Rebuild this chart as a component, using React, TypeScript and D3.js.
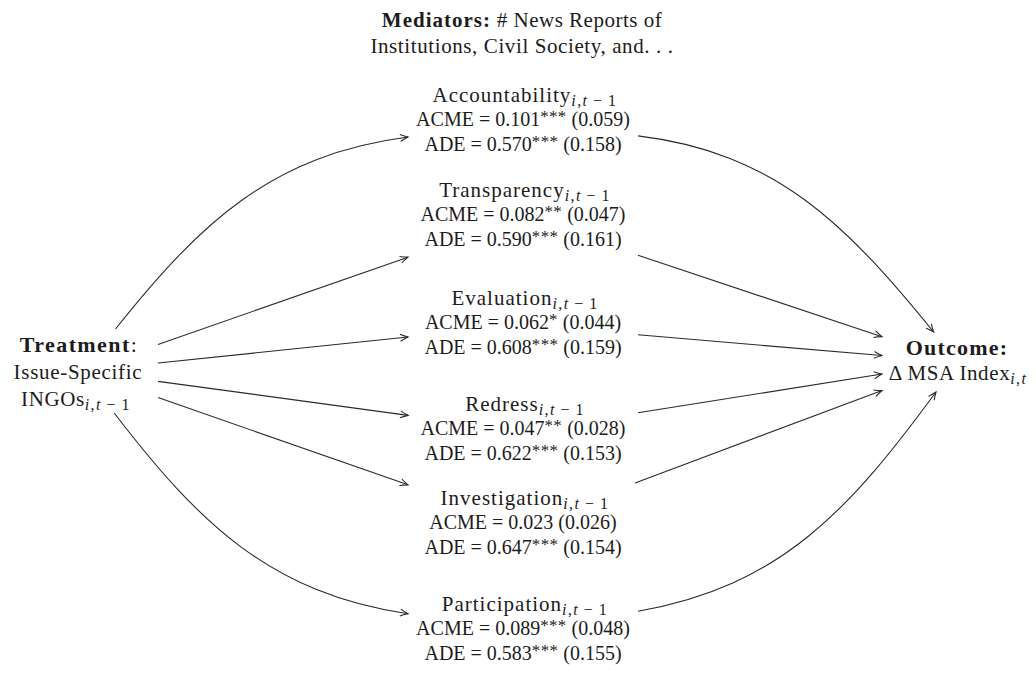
import React from "react";
import * as d3 from "d3";

const mediators = ["Accountability", "Transparency", "Evaluation", "Redress", "Investigation", "Participation"];
const acmeEst = [0.101, 0.082, 0.062, 0.047, 0.023, 0.089];
const acmeStars = ["***", "**", "*", "**", "", "***"];
const acmeSE = [0.059, 0.047, 0.044, 0.028, 0.026, 0.048];
const adeEst = [0.57, 0.59, 0.608, 0.622, 0.647, 0.583];
const adeStars = ["***", "***", "***", "***", "***", "***"];
const adeSE = [0.158, 0.161, 0.159, 0.153, 0.154, 0.155];

// layout (not data)
const bends = [22, 0, 0, 0, 0, -22];
const medRowY = [119, 214, 322, 428, 522, 628];

const W = 1036;
const H = 673;
const FONT = "'Liberation Serif', 'Times New Roman', serif";
const TEXT = "#1c1c1c";
const LINE = "#2a2a2a";

type Node = { cx: number; cy: number; hw: number; hh: number };

const yScale = d3.scaleOrdinal<string, number>().domain(mediators).range(medRowY);
const MED_X = 523;
const GAP = 24.5;

const treat: Node = { cx: 82, cy: 371, hw: 76, hh: 42 };
const outc: Node = { cx: 958, cy: 362, hw: 76, hh: 30 };
const medNode = (m: string): Node => ({ cx: MED_X, cy: yScale(m) + 3, hw: 115, hh: 42 });

function border(n: Node, ang: number): [number, number] {
  const c = Math.cos(ang), s = Math.sin(ang);
  const t = Math.min(Math.abs(c) < 1e-9 ? Infinity : n.hw / Math.abs(c), Math.abs(s) < 1e-9 ? Infinity : n.hh / Math.abs(s));
  return [n.cx + t * c, n.cy + t * s];
}

function edge(a: Node, b: Node, bendDeg: number) {
  const th = (bendDeg * Math.PI) / 180;
  const alpha = Math.atan2(b.cy - a.cy, b.cx - a.cx);
  const beta = Math.atan2(a.cy - b.cy, a.cx - b.cx);
  const outA = alpha - th;
  const inA = beta + th;
  const p0 = border(a, outA);
  const p1 = border(b, inA);
  const path = d3.path();
  path.moveTo(p0[0], p0[1]);
  if (bendDeg === 0) {
    path.lineTo(p1[0], p1[1]);
  } else {
    const dist = Math.hypot(p1[0] - p0[0], p1[1] - p0[1]) * 0.3915;
    path.bezierCurveTo(
      p0[0] + dist * Math.cos(outA), p0[1] + dist * Math.sin(outA),
      p1[0] + dist * Math.cos(inA), p1[1] + dist * Math.sin(inA),
      p1[0], p1[1]
    );
  }
  const back = inA;
  const L = 8.5, spread = 0.42;
  const ah = d3.path();
  const l1: [number, number] = [p1[0] + L * Math.cos(back - spread), p1[1] + L * Math.sin(back - spread)];
  const l2: [number, number] = [p1[0] + L * Math.cos(back + spread), p1[1] + L * Math.sin(back + spread)];
  const mid = (q: [number, number]): [number, number] => [
    (q[0] + p1[0]) / 2 + 0.8 * Math.cos(back),
    (q[1] + p1[1]) / 2 + 0.8 * Math.sin(back),
  ];
  const m1 = mid(l1), m2 = mid(l2);
  ah.moveTo(l1[0], l1[1]);
  ah.quadraticCurveTo(m1[0], m1[1], p1[0], p1[1]);
  ah.quadraticCurveTo(m2[0], m2[1], l2[0], l2[1]);
  return { line: path.toString(), head: ah.toString() };
}

const Sub = ({ s }: { s: string }) => {
  const parts = s.split(/([−0-9,]+)/).filter((p) => p.length);
  return (
    <tspan fontSize={16} dy={4} letterSpacing={1.4}>
      {parts.map((p, k) =>
        /[a-z]/.test(p) ? (
          <tspan key={k} fontStyle="italic">{p}</tspan>
        ) : (
          <tspan key={k}>{p.replace("−", "\u2009−\u2009")}</tspan>
        )
      )}
    </tspan>
  );
};

const Est = ({ label, v, stars, se }: { label: string; v: number; stars: string; se: number }) => (
  <>
    <tspan>{`${label} = ${v.toFixed(3)}`}</tspan>
    {stars ? (
      <>
        <tspan fontSize={17} dy={-4} letterSpacing={0.3}>{stars}</tspan>
        <tspan dy={4}>{` (${se.toFixed(3)})`}</tspan>
      </>
    ) : (
      <tspan>{` (${se.toFixed(3)})`}</tspan>
    )}
  </>
);

export default function App() {
  return (
    <svg width={W} height={H} style={{ display: "block", position: "absolute", left: 0, top: 0, background: "#fff" }}
      fontFamily={FONT} fill={TEXT}>
      {/* header */}
      <text x={522} y={27} textAnchor="middle" fontSize={21}>
        <tspan fontWeight="bold" letterSpacing={1}>Mediators:</tspan>
        <tspan letterSpacing={0.5}> # News Reports of</tspan>
      </text>
      <text x={522} y={53} textAnchor="middle" fontSize={21} letterSpacing={0.6}>
        Institutions, Civil Society, and. . .
      </text>

      {/* treatment */}
      <text x={treat.cx - 3} y={treat.cy - 26 + 7} textAnchor="middle" fontSize={22} letterSpacing={1.4}>
        <tspan fontWeight="bold">Treatment</tspan>:
      </text>
      <text x={treat.cx - 4} y={treat.cy + 1 + 7} textAnchor="middle" fontSize={21} letterSpacing={0.7}>Issue-Specific</text>
      <text x={treat.cx - 6} y={treat.cy + 28 + 7} textAnchor="middle" fontSize={21} letterSpacing={0.6}>
        INGOs<Sub s="i,t−1" />
      </text>

      {/* outcome */}
      <text x={outc.cx - 1} y={outc.cy - 14 + 7} textAnchor="middle" fontSize={22} fontWeight="bold" letterSpacing={1.2}>Outcome:</text>
      <text x={outc.cx} y={outc.cy + 11 + 7} textAnchor="middle" fontSize={21} letterSpacing={0.6}>
        Δ MSA Index<Sub s="i,t" />
      </text>

      {/* mediators */}
      {mediators.map((m, i) => {
        const cy = yScale(m);
        return (
          <g key={m}>
            <text x={MED_X + 2} y={cy - GAP + 7} textAnchor="middle" fontSize={21} letterSpacing={1}>
              {m}<Sub s="i,t−1" />
            </text>
            <text x={MED_X} y={cy + 7} textAnchor="middle" fontSize={20}>
              <Est label="ACME" v={acmeEst[i]} stars={acmeStars[i]} se={acmeSE[i]} />
            </text>
            <text x={MED_X} y={cy + GAP + 7} textAnchor="middle" fontSize={20}>
              <Est label="ADE" v={adeEst[i]} stars={adeStars[i]} se={adeSE[i]} />
            </text>
          </g>
        );
      })}

      {/* arrows */}
      <g fill="none" stroke={LINE} strokeWidth={1.1}>
        {mediators.map((m, i) => {
          const e1 = edge(treat, medNode(m), bends[i]);
          const e2 = edge(medNode(m), outc, bends[i]);
          return (
            <g key={m}>
              <path d={e1.line} />
              <path d={e1.head} />
              <path d={e2.line} />
              <path d={e2.head} />
            </g>
          );
        })}
      </g>
    </svg>
  );
}
